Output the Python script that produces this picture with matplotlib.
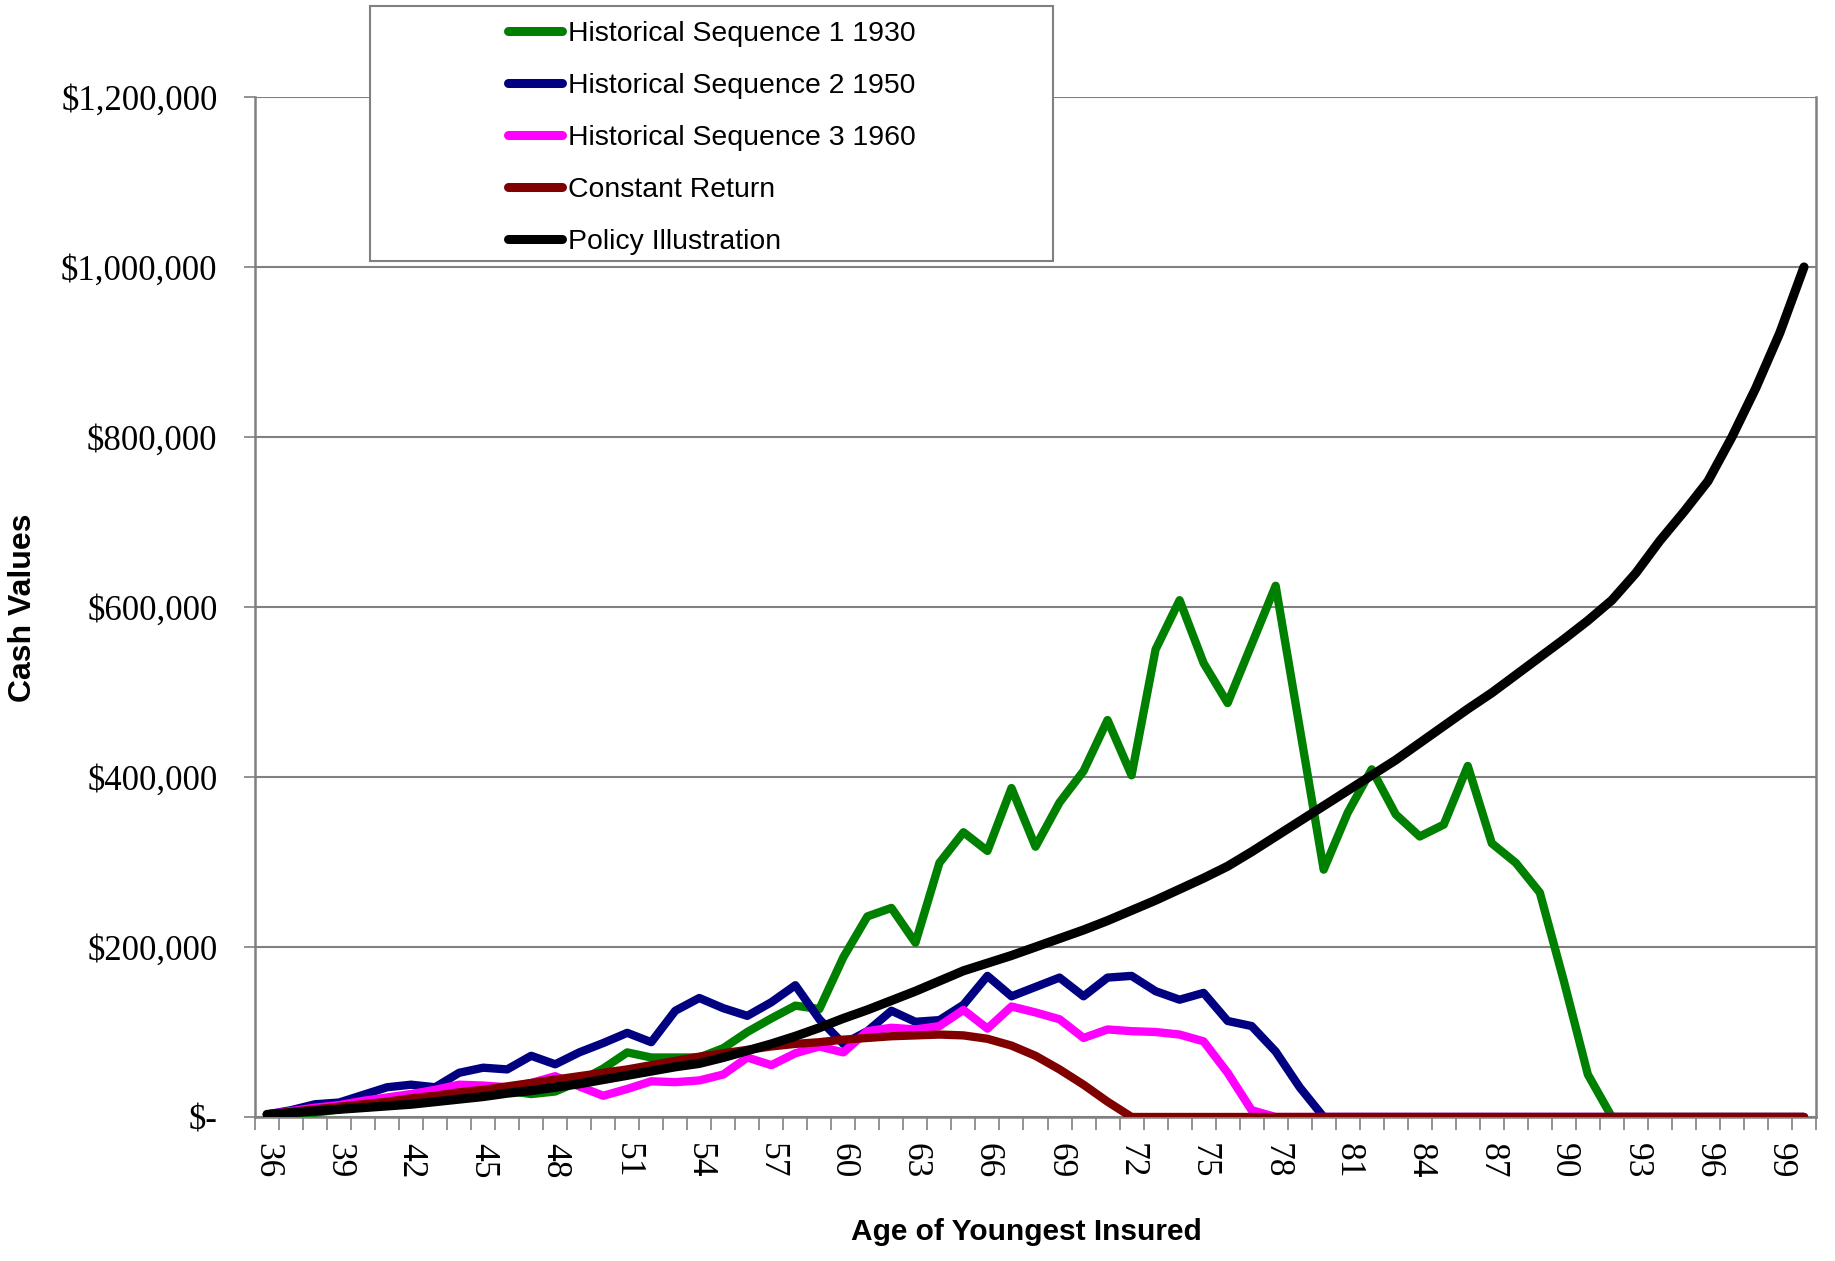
import matplotlib
matplotlib.use("Agg")
import matplotlib.pyplot as plt
from matplotlib.patches import Rectangle
from matplotlib.ticker import FuncFormatter

ages = list(range(36, 101))

# cash values in $ thousands
seq1_1930 = [0, 2, 5, 9, 13, 17, 20, 23, 26, 29, 31, 27, 30, 42, 57, 76, 70, 70, 70, 81,
             100, 116, 131, 127, 188, 236, 246, 205, 299, 335, 313, 387, 318, 370, 407, 467,
             402, 550, 608, 534, 487, 556, 625, 458, 291, 358, 409, 356, 330, 344, 413, 322,
             299, 264, 160, 50, 0, 0, 0, 0, 0, 0, 0, 0, 0]
seq2_1950 = [3, 8, 15, 17, 26, 35, 38, 35, 52, 58, 56, 72, 62, 76, 87, 99, 88, 125, 140, 128,
             119, 135, 155, 115, 86, 101, 125, 112, 114, 132, 166, 142, 153, 164, 142, 164,
             166, 148, 138, 146, 113, 107, 77, 35, 0, 0, 0, 0, 0, 0, 0, 0, 0, 0, 0, 0, 0, 0,
             0, 0, 0, 0, 0, 0, 0]
seq3_1960 = [3, 7, 11, 14, 19, 23, 27, 32, 38, 37, 35, 40, 48, 36, 25, 33, 42, 41, 43, 50,
             70, 61, 75, 83, 76, 101, 105, 103, 107, 126, 104, 130, 123, 115, 93, 103, 101,
             100, 97, 89, 52, 8, 0, 0, 0, 0, 0, 0, 0, 0, 0, 0, 0, 0, 0, 0, 0, 0, 0, 0, 0, 0,
             0, 0, 0]
constant = [3, 6, 9, 12, 15, 18, 22, 25, 29, 32, 36, 40, 44, 48, 52, 56, 61, 66, 71, 75,
            79, 83, 86, 88, 91, 93, 95, 96, 97, 96, 92, 84, 72, 56, 38, 18, 0, 0, 0, 0, 0,
            0, 0, 0, 0, 0, 0, 0, 0, 0, 0, 0, 0, 0, 0, 0, 0, 0, 0, 0, 0, 0, 0, 0, 0]
policy = [3, 5, 7, 9, 11, 13, 15, 18, 21, 24, 28, 31, 35, 39, 44, 49, 54, 59, 63, 70,
          78, 86, 95, 105, 116, 126, 137, 148, 160, 172, 181, 190, 200, 210, 220, 231, 243,
          255, 268, 281, 295, 312, 330, 348, 366, 384, 402, 420, 440, 460, 480, 499, 520,
          541, 562, 584, 608, 640, 678, 712, 748, 800, 858, 923, 1000]

names = ["Historical Sequence 1 1930", "Historical Sequence 2 1950",
         "Historical Sequence 3 1960", "Constant Return", "Policy Illustration"]
colors = ["#008000", "#000080", "#FF00FF", "#800000", "#000000"]
series = [seq1_1930, seq2_1950, seq3_1960, constant, policy]

W, H = 1835, 1261
fig = plt.figure(figsize=(W / 100, H / 100), dpi=100)
ax = fig.add_axes([255 / W, 1 - 1117 / H, (1816 - 255) / W, (1117 - 97) / H])

grey = "#808080"
handles = []
for vals, name, col in zip(series, names, colors):
    lw = 6.6 if col == "#000000" else 6.0
    h, = ax.plot(ages, [v * 1000 for v in vals], color=col, lw=lw, label=name,
                 solid_joinstyle="round", solid_capstyle="round", zorder=3)
    handles.append(h)

ax.set_xlim(35.5, 100.5)
ax.set_ylim(0, 1200000)
ax.set_yticks(range(0, 1200001, 200000))
ax.yaxis.set_major_formatter(FuncFormatter(lambda v, p: "$-" if v == 0 else "${:,.0f}".format(v)))
ax.grid(axis="y", color=grey, lw=1.5, zorder=1)

# ticks between categories, labels every third age
ax.set_xticks([a - 0.5 for a in ages] + [100.5])
ax.set_xticklabels([])
ax.set_xticks(ages[::3], minor=True)
ax.set_xticklabels([str(a) for a in ages[::3]], minor=True, rotation=270,
                   fontfamily="Liberation Serif", fontsize=25.5)
ax.tick_params(axis="x", which="major", length=9, width=1.2, color=grey, direction="out")
ax.tick_params(axis="x", which="minor", length=0, pad=19)
ax.tick_params(axis="y", length=8, width=1.2, color=grey, pad=19, labelsize=25)
for lab in ax.get_yticklabels():
    lab.set_fontfamily("Liberation Serif")

for s in ax.spines.values():
    s.set_color(grey)
    s.set_linewidth(1.8)
ax.spines["top"].set_visible(False)

fig.text(23 / W, 1 - 608 / H, "Cash Values", rotation=90, ha="center", va="center",
         fontsize=23, fontweight="bold", fontfamily="Liberation Sans")
fig.text(1026 / W, 1 - 1232 / H, "Age of Youngest Insured", ha="center", va="center",
         fontsize=21.5, fontweight="bold", fontfamily="Liberation Sans")

# legend box
fig.patches.append(Rectangle((370 / W, 1 - 261 / H), 683 / W, 255 / H, transform=fig.transFigure,
                             facecolor="white", edgecolor=grey, lw=1.5, zorder=2))
leg = fig.legend(handles=handles, loc="upper left", bbox_to_anchor=(508 / W, 1 - 21 / H),
                 frameon=False, borderpad=0, borderaxespad=0, handlelength=1.9,
                 handletextpad=0.22, labelspacing=0.92,
                 prop={"family": "Liberation Sans", "size": 20.4})
leg.set_zorder(5)
for lh in leg.get_lines():
    lh.set_linewidth(6.5)

fig.savefig("out.png", dpi=100)
